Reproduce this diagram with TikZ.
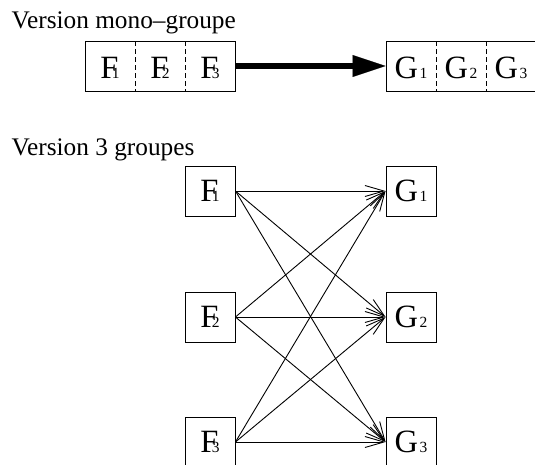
\documentclass[tikz,border=0pt]{standalone}
\usepackage{fontspec}
\setmainfont{Liberation Serif}
\usetikzlibrary{arrows.meta}
\newcommand{\Fsub}[1]{{\fontsize{32.5}{36}\selectfont F\kern-6.5pt{\fontsize{15.5}{18}\selectfont #1}}}
\newcommand{\Gsub}[1]{{\fontsize{32.5}{36}\selectfont G\kern1.5pt{\fontsize{15.5}{18}\selectfont #1}}}
\tikzset{
  title/.style={anchor=base west,inner sep=0pt,font=\fontsize{25.3}{30}\selectfont},
  bigbox/.style={draw,line width=0.9pt,minimum width=150pt,minimum height=50pt,inner sep=0pt},
  cellbox/.style={draw,line width=0.9pt,minimum width=50pt,minimum height=50pt,inner sep=0pt},
  celltext/.style={inner sep=0pt},
  divider/.style={line width=0.8pt,dash pattern=on 5pt off 3pt},
  arr/.style={line width=0.9pt,-{Straight Barb[length=19pt,width=11pt]}},
  bigarr/.style={line width=5.5pt,-{Triangle[length=33pt,width=22pt,line width=0.1pt]}}
}
\begin{document}
\begin{tikzpicture}[x=1pt,y=-1pt]
\useasboundingbox (0,0) rectangle (535,464);
% titles
\node[title] (t1) at (11.5,28) {Version mono–groupe};
\node[title] (t2) at (11.5,155) {Version 3 groupes};
% top row
\node[bigbox] (Fbox) at (160,66) {};
\node[bigbox] (Gbox) at (461,66) {};
\coordinate (fd1t) at (135,41); \coordinate (fd1b) at (135,91);
\coordinate (fd2t) at (185,41); \coordinate (fd2b) at (185,91);
\coordinate (gd1t) at (436,41); \coordinate (gd1b) at (436,91);
\coordinate (gd2t) at (486,41); \coordinate (gd2b) at (486,91);
\draw[divider] (fd1t) -- (fd1b);
\draw[divider] (fd2t) -- (fd2b);
\draw[divider] (gd1t) -- (gd1b);
\draw[divider] (gd2t) -- (gd2b);
\node[celltext] (tf1) at (110,67.5) {\Fsub{1}};
\node[celltext] (tf2) at (160,67.5) {\Fsub{2}};
\node[celltext] (tf3) at (210,67.5) {\Fsub{3}};
\node[celltext] (tg1) at (411,67.5) {\Gsub{1}};
\node[celltext] (tg2) at (461,67.5) {\Gsub{2}};
\node[celltext] (tg3) at (511,67.5) {\Gsub{3}};
\draw[bigarr] (Fbox.east) -- (Gbox.west);
% lower part
\node[cellbox] (F1) at (210,191) {\Fsub{1}};
\node[cellbox] (F2) at (210,317) {\Fsub{2}};
\node[cellbox] (F3) at (210,442) {\Fsub{3}};
\node[cellbox] (G1) at (411,191) {\Gsub{1}};
\node[cellbox] (G2) at (411,317) {\Gsub{2}};
\node[cellbox] (G3) at (411,442) {\Gsub{3}};
\foreach \i in {1,2,3}{
  \foreach \j in {1,2,3}{
    \draw[arr] (F\i.east) -- (G\j.west);
  }
}
\end{tikzpicture}
\end{document}
